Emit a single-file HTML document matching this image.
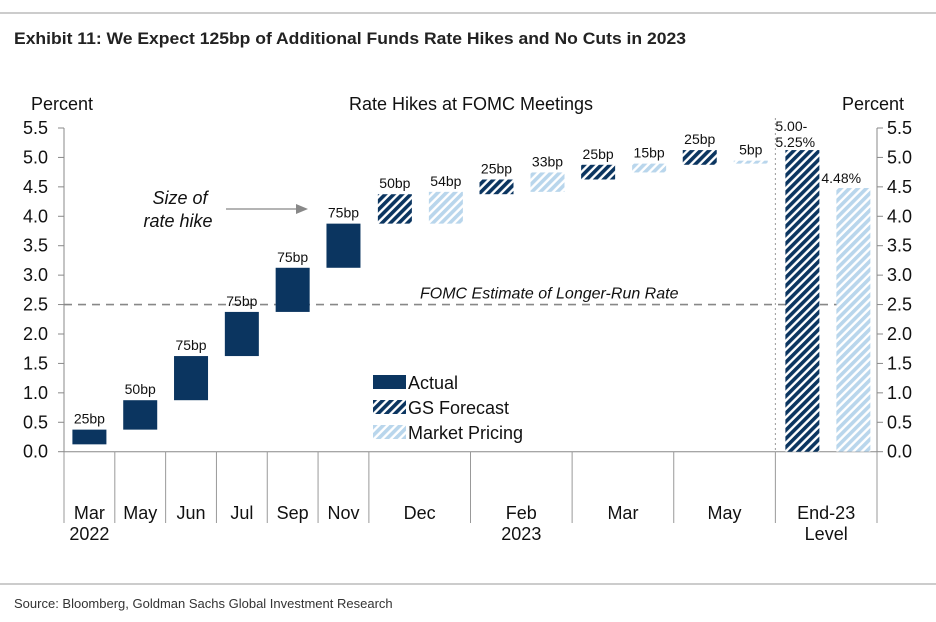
<!DOCTYPE html>
<html><head><meta charset="utf-8"><style>
body{margin:0;background:#fff;width:936px;height:622px;overflow:hidden;font-family:"Liberation Sans",sans-serif;}
svg{position:absolute;left:0;top:0}
</style></head><body>
<svg id="c" width="936" height="622" xmlns="http://www.w3.org/2000/svg">
<defs>
<pattern id="gs" patternUnits="userSpaceOnUse" width="6" height="6" patternTransform="rotate(45)"><rect width="6" height="6" fill="#fff"/><rect width="3.6" height="6" fill="#0b3560"/></pattern>
<pattern id="mk" patternUnits="userSpaceOnUse" width="6" height="6" patternTransform="rotate(45)"><rect width="6" height="6" fill="#fff"/><rect width="3.6" height="6" fill="#b9d6ec"/></pattern>
</defs>
<line x1="0" y1="13" x2="936" y2="13" stroke="#999" stroke-width="1"/>
<text x="14" y="44" font-family="'Liberation Sans Narrow','Liberation Sans',sans-serif" font-weight="bold" font-size="17" fill="#222" textLength="672" lengthAdjust="spacingAndGlyphs">Exhibit 11: We Expect 125bp of Additional Funds Rate Hikes and No Cuts in 2023</text>
<text x="31" y="110" font-size="18" fill="#111">Percent</text>
<text x="842" y="110" font-size="18" fill="#111">Percent</text>
<text x="471" y="110" font-size="18" fill="#111" text-anchor="middle">Rate Hikes at FOMC Meetings</text>
<g id="g"></g>
<line x1="0" y1="584" x2="936" y2="584" stroke="#999" stroke-width="1"/>
<text x="14" y="608" font-family="'Liberation Sans Narrow','Liberation Sans',sans-serif" font-size="13" fill="#333">Source: Bloomberg, Goldman Sachs Global Investment Research</text>
</svg>
<script>
const yTicks=[0,0.5,1,1.5,2,2.5,3,3.5,4,4.5,5,5.5];
const catLabels=[["Mar","2022"],["May"],["Jun"],["Jul"],["Sep"],["Nov"],["Dec"],["Feb","2023"],["Mar"],["May"],["End-23","Level"]];
const catWeights=[1,1,1,1,1,1,2,2,2,2,2];
const actualLow=[0.125,0.375,0.875,1.625,2.375,3.125];
const actualHigh=[0.375,0.875,1.625,2.375,3.125,3.875];
const actualLabels=["25bp","50bp","75bp","75bp","75bp","75bp"];
const gsLow=[3.875,4.375,4.625,4.875];
const gsHigh=[4.375,4.625,4.875,5.125];
const gsLabels=["50bp","25bp","25bp","25bp"];
const mkLow=[3.875,4.415,4.745,4.895];
const mkHigh=[4.415,4.745,4.895,4.945];
const mkLabels=["54bp","33bp","15bp","5bp"];
const endGS=5.125, endMk=4.48;
const longRun=2.5;

const NS="http://www.w3.org/2000/svg";
const g=document.getElementById('g');
const X0=64,X1=877,Y0=451.7,Y55=128;
const y=v=>Y0-(v/5.5)*(Y0-Y55);
const totalW=catWeights.reduce((a,b)=>a+b,0);
const unit=(X1-X0)/totalW;
const catStart=i=>X0+catWeights.slice(0,i).reduce((a,b)=>a+b,0)*unit;
function el(t,a,txt){const e=document.createElementNS(NS,t);for(const k in a)e.setAttribute(k,a[k]);if(txt!==undefined)e.textContent=txt;g.appendChild(e);return e;}

// axes
let e=el('line',{x1:X0,y1:Y55,x2:X0,y2:Y0,stroke:'#888'});


e=el('line',{x1:X1,y1:Y55,x2:X1,y2:Y0,stroke:'#888'});


e=el('line',{x1:X0,y1:Y0,x2:X1,y2:Y0,stroke:'#888'});


yTicks.forEach(v=>{
  el('line',{x1:X0-6,y1:y(v),x2:X0,y2:y(v),stroke:'#888'});
  el('line',{x1:X1,y1:y(v),x2:X1+6,y2:y(v),stroke:'#888'});
  let t=el('text',{x:X0-16,y:y(v)+6,'font-size':18,'text-anchor':'end',fill:'#111'},v.toFixed(1));
  
  
  t=el('text',{x:X1+10,y:y(v)+6,'font-size':18,fill:'#111'},v.toFixed(1));
  
  
});
// category dividers & labels
for(let i=0;i<=catLabels.length;i++){
  const x=catStart(i);
  el('line',{x1:x,y1:Y0,x2:x,y2:523,stroke:'#999'});
}
catLabels.forEach((lb,i)=>{
  const cx=(catStart(i)+catStart(i+1))/2;
  lb.forEach((s,j)=>{
    const t=el('text',{x:cx,y:519+j*21,'font-size':18,'text-anchor':'middle',fill:'#111'},s);
    
    
  });
});
// long-run line
e=el('line',{x1:X0,y1:y(longRun),x2:X1-18,y2:y(longRun),stroke:'#888','stroke-width':1.6,'stroke-dasharray':'8 6'});


e=el('text',{x:420,y:y(longRun)-6,'font-size':16,'font-style':'italic',fill:'#111'},'FOMC Estimate of Longer-Run Rate');


// End-23 dotted separator
const sepX=catStart(10);
el('line',{x1:sepX,y1:118,x2:sepX,y2:Y0,stroke:'#999','stroke-dasharray':'2 3'});

const bw=34;
function bar(x,lo,hi,fill,name,label,lx,ly){
  const r=el('rect',{x:x,y:y(hi),width:bw,height:y(lo)-y(hi),fill:fill});
  
  
  if(label){const t=el('text',{x:lx!==undefined?lx:x+bw/2,y:ly!==undefined?ly:y(hi)-6,'font-size':14,'text-anchor':'middle',fill:'#111'},label);
  
  }
}
actualLow.forEach((lo,i)=>{
  const cx=(catStart(i)+catStart(i+1))/2;
  bar(cx-bw/2,lo,actualHigh[i],'#0b3560','actual-bar',actualLabels[i]);
});
gsLow.forEach((lo,i)=>{
  const s=catStart(6+i);
  bar(s+9,lo,gsHigh[i],'url(#gs)','gs-forecast-bar',gsLabels[i]);
  bar(s+60,mkLow[i],mkHigh[i],'url(#mk)','market-pricing-bar',mkLabels[i]);
});
const es=catStart(10);
bar(es+10,0,endGS,'url(#gs)','end23-gs-bar');
bar(es+61,0,endMk,'url(#mk)','end23-market-bar');
e=el('text',{x:es+0,y:y(endGS)-19,'font-size':14,fill:'#111'},'5.00-');


e=el('text',{x:es+0,y:y(endGS)-3,'font-size':14,fill:'#111'},'5.25%');


e=el('text',{x:es+46,y:y(endMk)-5,'font-size':14,fill:'#111'},(endMk).toFixed(2)+'%');


// annotation
e=el('text',{x:180,y:204,'font-size':18,'font-style':'italic','text-anchor':'middle',fill:'#111'},'Size of');


e=el('text',{x:178,y:227,'font-size':18,'font-style':'italic','text-anchor':'middle',fill:'#111'},'rate hike');


el('line',{x1:226,y1:209,x2:296,y2:209,stroke:'#888','stroke-width':1.3});
e=el('path',{d:'M296,204 L308,209 L296,214 Z',fill:'#888'});


// legend
const leg=[['#0b3560','Actual'],['url(#gs)','GS Forecast'],['url(#mk)','Market Pricing']];
leg.forEach((l,i)=>{
  const yy=375+i*25;
  const r=el('rect',{x:373,y:yy,width:33,height:14,fill:l[0]});
  
  
  const t=el('text',{x:408,y:yy+14,'font-size':18,fill:'#111'},l[1]);
  
  
});
</script>
</body></html>
